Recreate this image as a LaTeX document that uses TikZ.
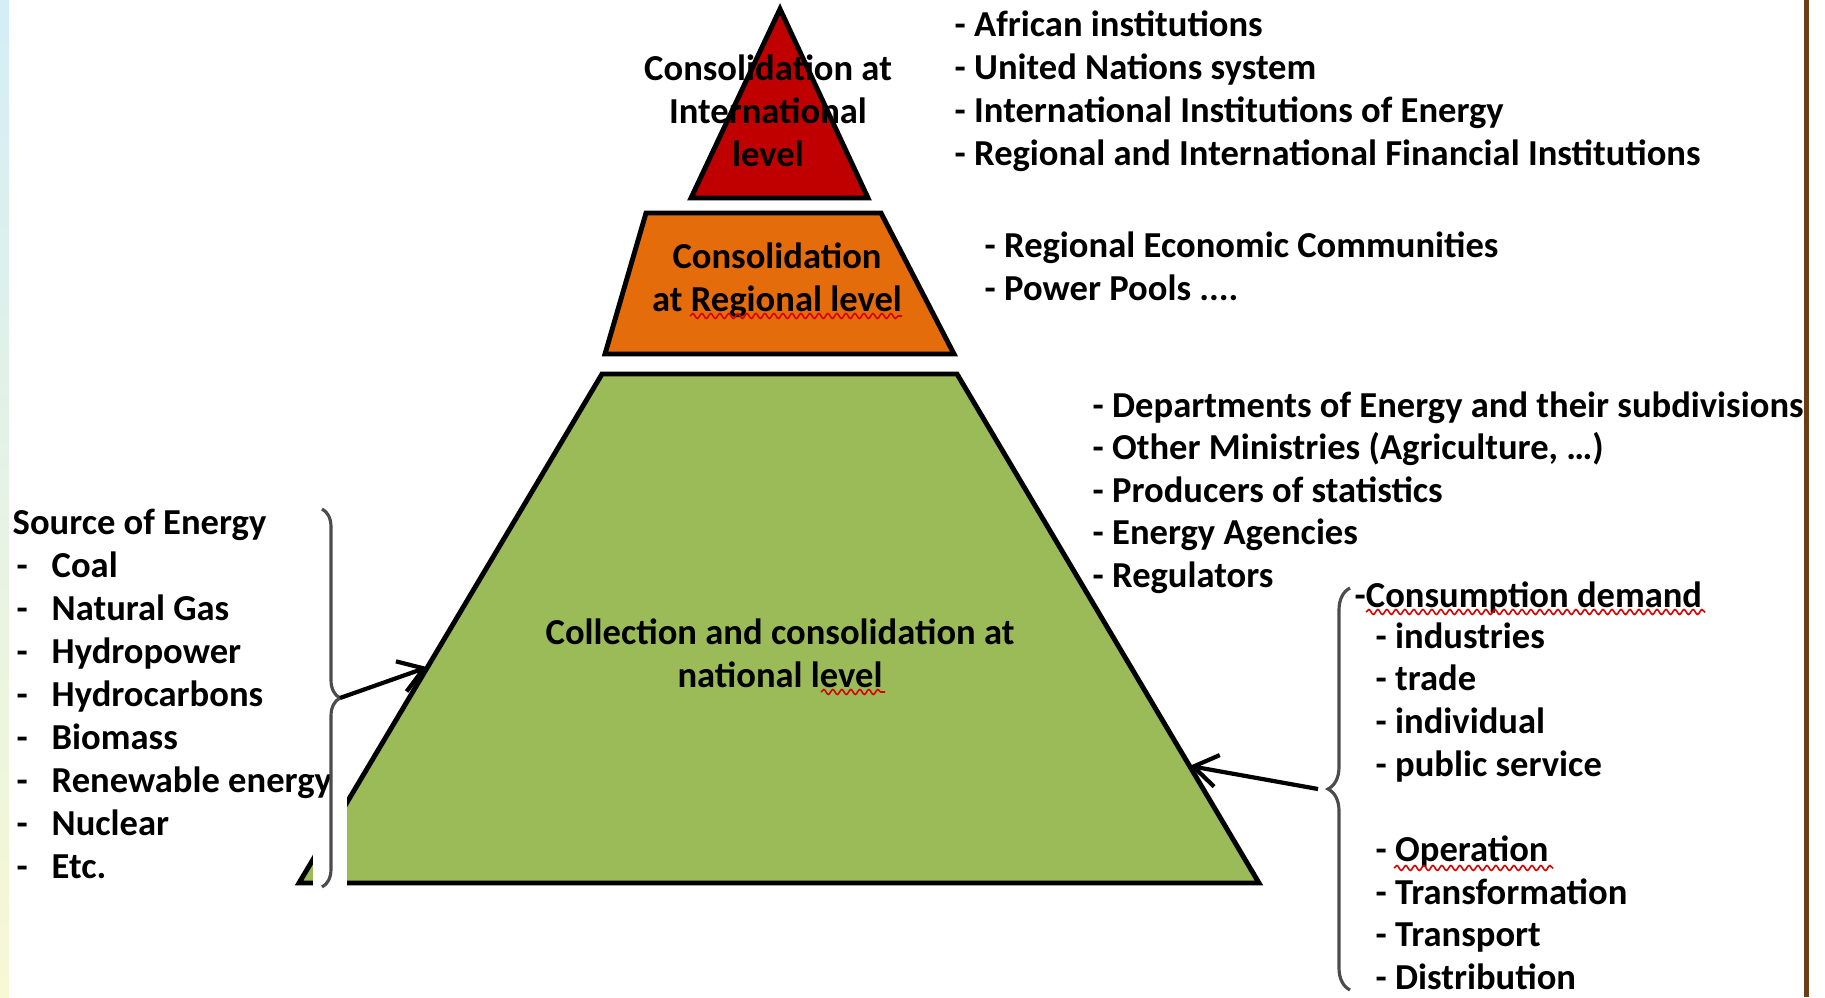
\documentclass[tikz,border=0pt]{standalone}
\usepackage{fontspec}
\setmainfont{Carlito}
\usetikzlibrary{calc,arrows.meta,decorations.pathreplacing,decorations.pathmorphing}

\definecolor{intlred}{RGB}{192,0,0}
\definecolor{regorange}{RGB}{228,108,10}
\definecolor{natgreen}{RGB}{155,187,89}
\definecolor{framebrown}{RGB}{107,62,20}
\definecolor{stripetop}{RGB}{212,237,246}
\definecolor{stripebot}{RGB}{247,248,212}

\tikzset{
	tier/.style={draw=black, line width=1.4pt, line join=miter},
	lbl/.style={inner sep=0pt, align=center, font=\fontsize{10.4}{12.15}\selectfont\bfseries},
	entry/.style={inner sep=0pt, anchor=base west, font=\fontsize{10.4}{12.15}\selectfont\bfseries},
	curly/.style={decorate, decoration={brace, amplitude=#1}, draw=black!70, line width=0.9pt},
	flow/.style={-{Straight Barb[length=2.4mm, width=3.2mm]}, line width=1.2pt},
	spell/.style={decorate, decoration={snake, amplitude=0.25mm, segment length=0.9mm}, draw=red!85!black, line width=0.45pt}
}

\begin{document}
\begin{tikzpicture}[x=0.01cm, y=-0.01cm]
	%%%%% FRAME %%%%%
	\useasboundingbox (0,0) rectangle (1825,997);
	\shade[top color=stripetop, bottom color=stripebot] (0,0) rectangle (9,997);
	\fill[framebrown] (1804,0) rectangle (1809,997);

	%%%%% PYRAMID %%%%%
	\coordinate (gTL) at (602,374);
	\coordinate (gTR) at (957,374);
	\coordinate (gBR) at (1259,883);
	\coordinate (gBL) at (299,883);

	\draw[tier, fill=intlred] (780,9) -- (868,198) -- (691,198) -- cycle;
	\draw[tier, fill=regorange] (646,213) -- (881,213) -- (954,354) -- (605,354) -- cycle;
	\draw[tier, fill=natgreen] (gTL) -- (gTR) -- (gBR) -- (gBL) -- cycle;
	\fill[white] (313,500) rectangle (347,895);

	\node[lbl] (intl) at (768,111) {Consolidation at\\International\\level};
	\node[lbl] (reg) at (777,280) {Consolidation\\at Regional level};
	\node[lbl] (nat) at (780,653) {Collection and consolidation at\\national level};

	%%%%% ACTORS %%%%%
	\foreach \txt [count=\i from 0] in {African institutions, United Nations system, International Institutions of Energy, Regional and International Financial Institutions}
		\node[entry] (intl\i) at (954, 37+42.7*\i) {- \txt};

	\node[entry] (rec0) at (984,257) {- Regional Economic Communities};
	\node[entry] (rec1) at (984,300) {- Power Pools ....};

	\foreach \txt [count=\i from 0] in {Departments of Energy and their subdivisions, {Other Ministries (Agriculture, \dots)}, Producers of statistics, Energy Agencies, Regulators}
		\node[entry] (dep\i) at (1092, 417+42.5*\i) {- \txt};

	%%%%% SOURCES %%%%%
	\node[entry] (src) at (12,534) {Source of Energy};
	\foreach \txt [count=\i from 0] in {Coal, Natural Gas, Hydropower, Hydrocarbons, Biomass, Renewable energy, Nuclear, Etc.}
		\node[entry] (src\i) at (16, 577+43.1*\i) {\makebox[0.35cm][l]{-}\txt};

	%%%%% DEMAND %%%%%
	\node[entry] (dem) at (1354,607) {-Consumption demand};
	\foreach \i/\txt in {0/industries, 1/trade, 2/individual, 3/public service, 5/Operation, 6/Transformation, 7/Transport, 8/Distribution}
		\node[entry] (dem\i) at (1375, 648+42.7*\i) {- \txt};

	%%%%% BRACES AND ARROWS %%%%%
	\draw[curly=0.18cm] (322,509) -- (322,887);
	\draw[curly=0.22cm] (1350,990) -- (1350,588);
	\coordinate (srcTip) at (340,698);
	\coordinate (demTip) at (1318,789);
	\draw[flow] (srcTip) -- ($(gTL)!0.576!(gBL)$);
	\draw[flow] (demTip) -- ($(gTR)!0.770!(gBR)$);

	%%%%% SPELLING MARKS %%%%%
	\draw[spell] (690,316) -- (902,316);
	\draw[spell] (821,692) -- (885,692);
	\draw[spell] (1366,612) -- (1705,612);
	\draw[spell] (1394,868) -- (1553,868);
\end{tikzpicture}
\end{document}
